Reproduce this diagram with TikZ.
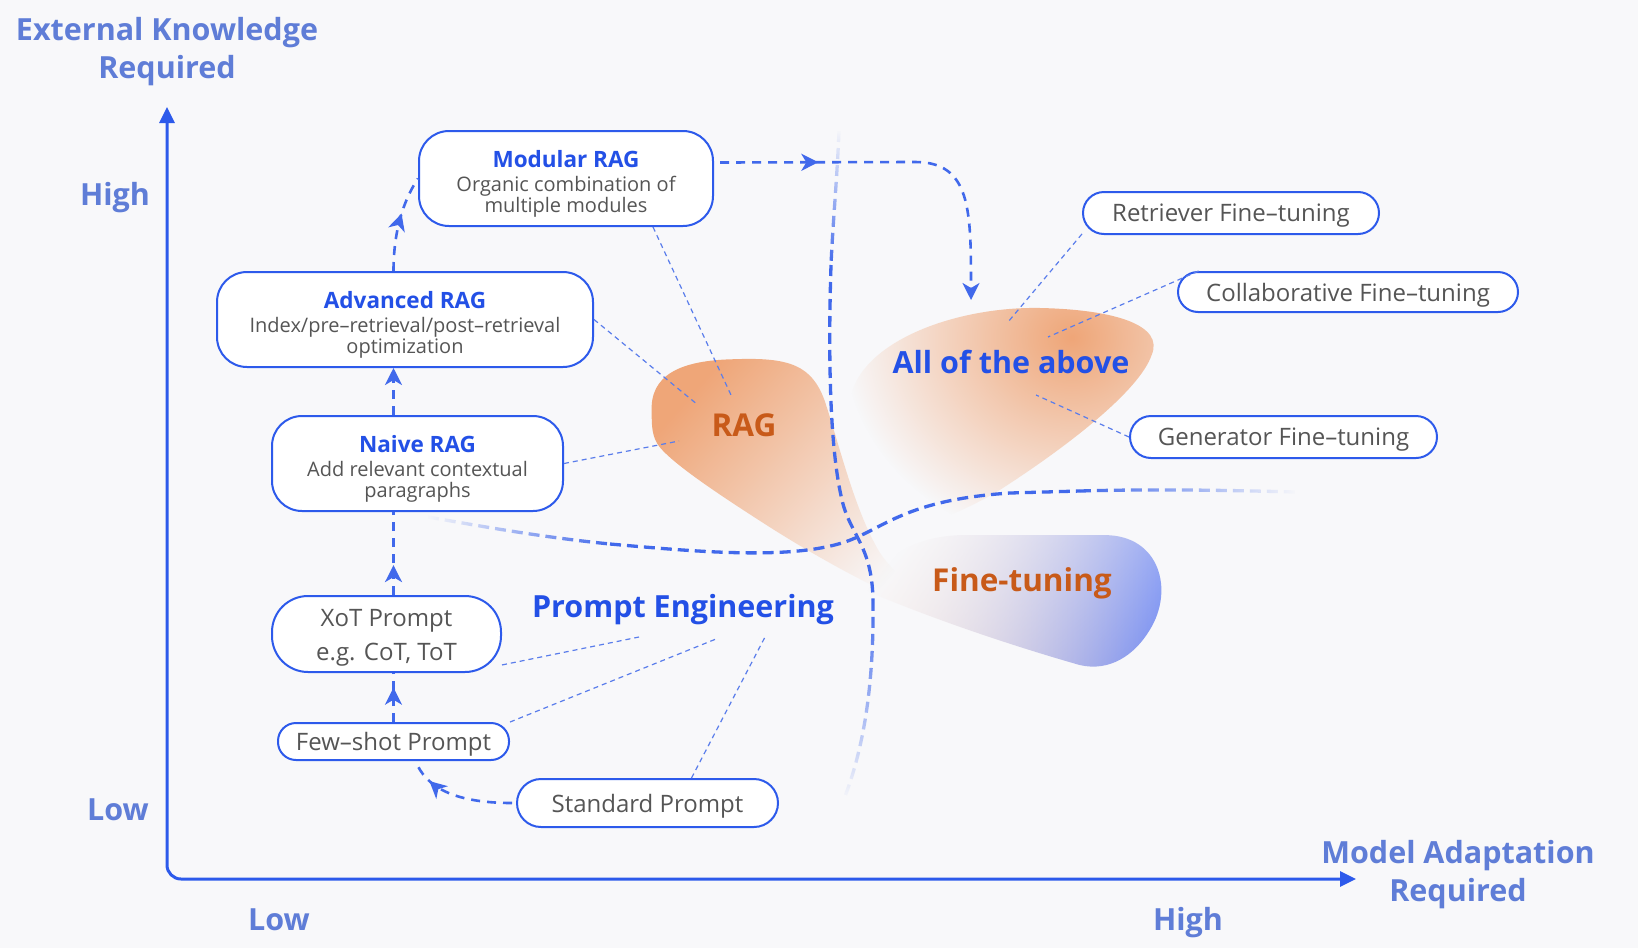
\documentclass[tikz,border=0pt]{standalone}
\usepackage{fontspec}
\setmainfont{Open Sans}
\usetikzlibrary{arrows.meta, calc, fadings, decorations.markings}

\definecolor{bgcol}{RGB}{248,248,250}
\definecolor{axisblue}{RGB}{45,90,235}
\definecolor{labelblue}{RGB}{95,125,215}
\definecolor{boxblue}{RGB}{45,90,235}
\definecolor{titleblue}{RGB}{35,80,230}
\definecolor{flowblue}{RGB}{65,105,235}
\definecolor{leadblue}{RGB}{90,125,235}
\definecolor{txtgray}{RGB}{85,85,85}
\definecolor{ragorange}{RGB}{239,166,120}
\definecolor{textorange}{RGB}{200,90,25}
\definecolor{ftblue}{RGB}{120,145,245}
\definecolor{ftmid}{RGB}{175,183,240}

\tikzfading[name=radfade, inner color=transparent!0, outer color=transparent!100]
\tikzfading[name=ftfade, left color=transparent!100, middle color=transparent!20, right color=transparent!0]

\begin{document}
\begin{tikzpicture}[x=1pt, y=-1pt,
    box/.style={draw=boxblue, line width=2pt, fill=white, rounded corners=30pt, align=center, text=txtgray, font=\fontsize{20}{21}\selectfont, inner sep=0pt},
    pill/.style={draw=boxblue, line width=2pt, fill=white, align=center, text=txtgray, font=\fontsize{24}{26}\selectfont, inner sep=0pt, text depth=0pt},
    head/.style={font=\bfseries\fontsize{30.5}{34}\selectfont, text=titleblue},
    axislabel/.style={font=\bfseries\fontsize{30.5}{38}\selectfont, text=labelblue, align=center},
    flow/.style={draw=flowblue, line width=2.6pt, dash pattern=on 9pt off 7pt},
    leader/.style={draw=leadblue, line width=1.2pt, dash pattern=on 5pt off 4pt},
    divider/.style={draw=flowblue, line width=3.3pt, dash pattern=on 11pt off 6pt},
    tip/.style={-{Stealth[length=17pt, width=17pt, inset=5pt]}},
    midtip/.style={postaction={decorate}, decoration={markings, mark=at position #1 with {\arrow{Stealth[length=17pt, width=17pt, inset=5pt]}}}}
]
\useasboundingbox (0,0) rectangle (1638,948);
\fill[bgcol] (0,0) rectangle (1638,948);

% Blobs (the two lone points set the centre of the fading)
\fill[ragorange, path fading=radfade]
  (850,400) .. controls (860,340) and (960,305) .. (1045,308)
  .. controls (1115,310) and (1165,325) .. (1152,355)
  .. controls (1140,390) and (1070,445) .. (1000,490)
  .. controls (950,520) and (880,545) .. (860,525)
  .. controls (845,500) and (843,440) .. (850,400) -- cycle
  (900,130) (1300,530);
\shade[left color=ragorange!45!white, middle color=ftmid, right color=ftblue, path fading=ftfade, fading angle=-20]
  (865,590) .. controls (880,560) and (910,537) .. (960,535)
  -- (1105,535)
  .. controls (1160,535) and (1175,590) .. (1150,630)
  .. controls (1135,655) and (1110,672) .. (1080,665)
  .. controls (1010,645) and (930,618) .. (865,590) -- cycle;
\fill[ragorange, path fading=east, fading angle=-38]
  (652,412) .. controls (650,375) and (680,360) .. (735,359)
  .. controls (790,357) and (812,365) .. (825,400)
  .. controls (840,445) and (855,510) .. (880,552)
  .. controls (898,580) and (935,600) .. (932,608)
  .. controls (905,605) and (830,565) .. (770,527)
  .. controls (720,495) and (675,465) .. (660,447)
  .. controls (652,437) and (652,425) .. (652,412) -- cycle;

% Dividers
\draw[divider, path fading=north] (839,131) .. controls (837,180) and (833,220) .. (831,265);
\draw[divider] (831,265) .. controls (828,360) and (830,450) .. (842,500) .. controls (850,535) and (872,545) .. (873,600);
\draw[divider, path fading=south] (873,600) .. controls (874,680) and (865,745) .. (844,799);
\draw[divider, path fading=west] (428,517) .. controls (480,526) and (540,537) .. (610,544);
\draw[divider] (610,544) .. controls (700,552) and (790,560) .. (845,542) .. controls (885,528) and (905,500) .. (1010,493) -- (1080,491);
\draw[divider, path fading=east] (1080,491) .. controls (1150,489) and (1220,490) .. (1295,492);

% Axes
\coordinate (ytop) at (167,107);
\coordinate (origin) at (167,879);
\coordinate (xend) at (1356,879);
\draw[axisblue, line width=3pt, rounded corners=14pt, {Triangle[length=16pt, width=15pt]}-{Triangle[length=16pt, width=15pt]}] (ytop) -- (origin) -- (xend);
\node[axislabel] (ylabel) at (167,52) {External Knowledge\\Required};
\node[axislabel] (xlabel) at (1458,875) {Model Adaptation\\Required};
\node[axislabel] (yhigh) at (115,198) {High};
\node[axislabel] (ylow) at (118,810) {Low};
\node[axislabel] (xlow) at (279,920) {Low};
\node[axislabel] (xhigh) at (1188,923) {High};

% Paradigms
\node[head] (prompteng) at (683,610) {Prompt Engineering};
\node[head, text=textorange, font=\bfseries\fontsize{31.5}{34}\selectfont] (rag) at (744,425) {RAG};
\node[head] (allabove) at (1011,362) {All of the above};
\node[head, text=textorange, font=\bfseries\fontsize{31.5}{34}\selectfont] (finetune) at (1022,583) {Fine-tuning};

% Boxes
\node[box, minimum width=294pt, minimum height=95pt] (modular) at (566,178.5) {{\color{titleblue}\bfseries\fontsize{22.5}{26}\selectfont\rule{0pt}{28pt}Modular RAG}\\[3pt] Organic combination of\\ multiple modules};
\node[box, minimum width=376pt, minimum height=95pt] (advanced) at (405,319.5) {{\color{titleblue}\bfseries\fontsize{22.5}{26}\selectfont\rule{0pt}{28pt}Advanced RAG}\\[3pt] Index/pre–retrieval/post–retrieval\\ optimization};
\node[box, minimum width=291pt, minimum height=95pt] (naive) at (417.5,463.5) {{\color{titleblue}\bfseries\fontsize{22.5}{26}\selectfont\rule{0pt}{28pt}Naive RAG}\\[3pt] Add relevant contextual\\ paragraphs};
\node[pill, text depth=, rounded corners=36pt, minimum width=229pt, minimum height=76pt] (xot) at (386.5,634) {\rule{0pt}{25.5pt}XoT Prompt\\[8pt] e.g. CoT, ToT};
\node[pill, rounded corners=18pt, minimum width=231pt, minimum height=37pt] (few) at (393.5,741.5) {Few–shot Prompt};
\node[pill, rounded corners=24pt, minimum width=261pt, minimum height=48pt] (standard) at (647.5,803) {Standard Prompt};
\node[pill, rounded corners=21pt, minimum width=296pt, minimum height=42pt] (retriever) at (1231,213) {Retriever Fine–tuning};
\node[pill, rounded corners=20pt, minimum width=340pt, minimum height=40pt] (collab) at (1348,292) {Collaborative Fine–tuning};
\node[pill, rounded corners=21pt, minimum width=307pt, minimum height=42pt] (generator) at (1283.5,437) {Generator Fine–tuning};

% Leader ends
\coordinate (ragm) at (731,395);
\coordinate (raga) at (698,405);
\coordinate (ragn) at (679,441);
\coordinate (pex) at (639,637);
\coordinate (pef) at (716,639);
\coordinate (pes) at (765,637);
\coordinate (abr) at (1008,322);
\coordinate (abc) at (1048,337);
\coordinate (abg) at (1036,395);
\coordinate (bend) at (915,162);
\coordinate (alltop) at (971,300);

% Leaders
\draw[leader] ($(modular.south)+(87,0)$) -- (ragm);
\draw[leader] (advanced.east) -- (raga);
\draw[leader] (naive.east) -- (ragn);
\draw[leader] (xot.-15) -- (pex);
\draw[leader] (few.north east) -- (pef);
\draw[leader] ($(standard.north)+(44,0)$) -- (pes);
\draw[leader] (retriever.188) -- (abr);
\draw[leader] (collab.172) -- (abc);
\draw[leader] (generator.west) -- (abg);

% Connections
\draw[flow, midtip=0.78] ($(standard.west)+(-4,0)$) .. controls +(-60,0) and +(10,25) .. ($(few.south)+(22,0)$);
\draw[flow, midtip=0.7] (few.north) -- (few.north |- xot.south);
\draw[flow, midtip=0.36] (few.north |- xot.north) -- (few.north |- naive.south);
\draw[flow, tip] (few.north |- naive.north) -- (few.north |- advanced.south);
\draw[flow, midtip=0.6] (few.north |- advanced.north) .. controls +(0,-45) and +(-12,18) .. (modular.west);
\draw[flow, tip, midtip=0.27] ($(modular.east)+(6,-16)$) -- (bend) .. controls +(56,0) and +(0,-90) .. (alltop);
\end{tikzpicture}
\end{document}
